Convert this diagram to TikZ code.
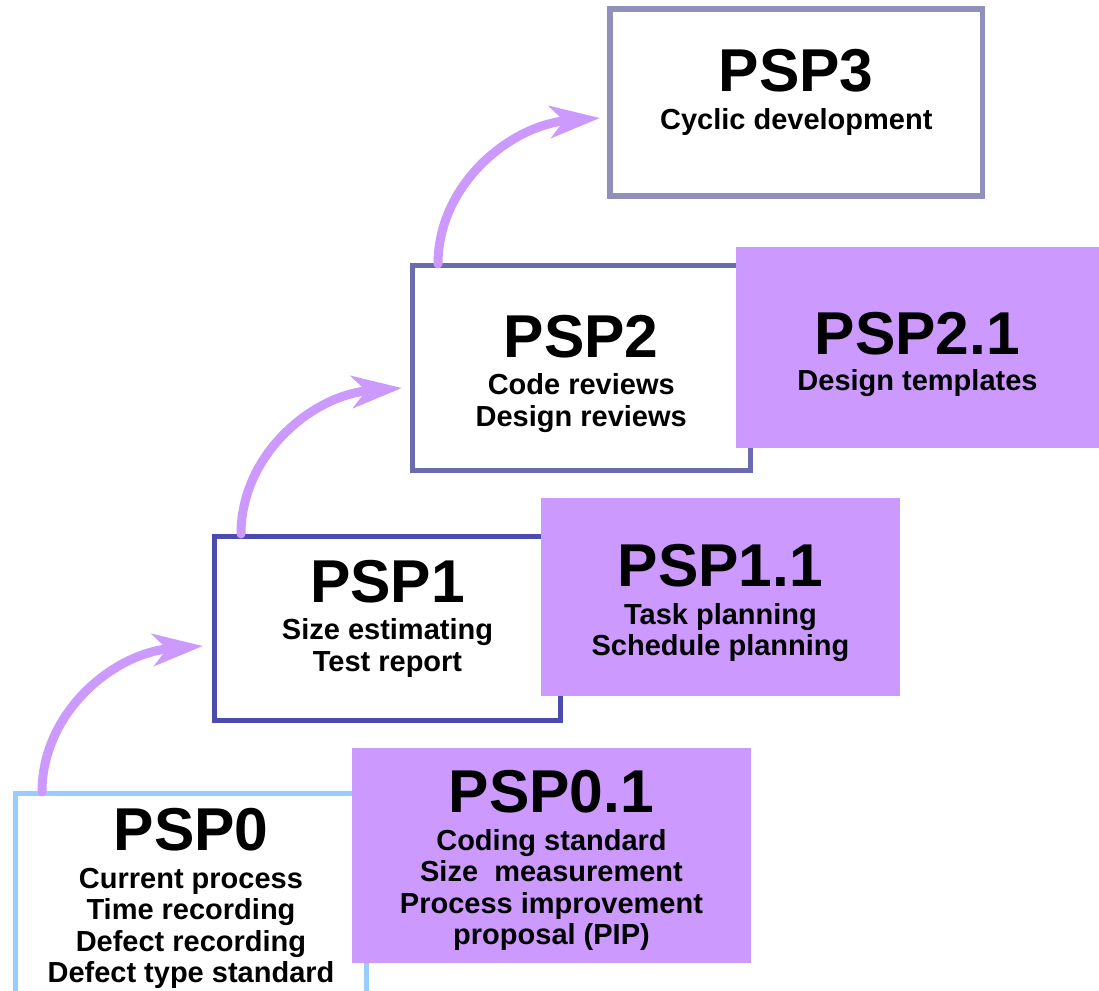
\documentclass[tikz,border=0pt]{standalone}
\usepackage{fontspec}
\setmainfont{Liberation Sans}
\usetikzlibrary{arrows.meta}
\definecolor{purp}{HTML}{CC99FF}
\definecolor{cA}{HTML}{99CCFF}
\definecolor{cB}{HTML}{4B4BB0}
\definecolor{cC}{HTML}{6B6BB0}
\definecolor{cD}{HTML}{9090BB}
\tikzset{
  box/.style={draw, fill=white, line width=5pt, inner sep=0pt, rectangle},
  pbox/.style={fill=purp, draw=none, inner sep=0pt, rectangle},
  ttl/.style={anchor=base, inner sep=0pt, font=\fontsize{60.5}{72}\selectfont\bfseries},
  sub/.style={anchor=base, inner sep=0pt, font=\fontsize{29}{32}\selectfont\bfseries},
  arr/.style={draw=purp, line width=9pt, line cap=round, -{Stealth[length=50pt,width=32pt,inset=14pt]}}
}
\begin{document}
\begin{tikzpicture}[x=1pt,y=-1pt]
\useasboundingbox (0,0) rectangle (1099,990);
\clip (0,0) rectangle (1099,990);
\fill[white] (0,0) rectangle (1099,990);
% boxes
\node[box, draw=cA, minimum width=351pt, minimum height=217pt] (b0) at (191,901.5) {};
\node[pbox, minimum width=399pt, minimum height=215pt] (b01) at (551.5,855.5) {};
\node[box, draw=cB, minimum width=346pt, minimum height=183.5pt] (b1) at (387.5,628.25) {};
\node[pbox, minimum width=359pt, minimum height=198pt] (b11) at (720.5,597) {};
\node[box, draw=cC, minimum width=338.5pt, minimum height=205pt] (b2) at (581.25,368) {};
\node[pbox, minimum width=363pt, minimum height=201pt] (b21) at (917.5,347.5) {};
\node[box, draw=cD, line width=5.5pt, minimum width=372.5pt, minimum height=187pt] (b3) at (796.25,102.5) {};
% texts PSP0
\node[ttl] (t0) at (191,850) {PSP0};
\node[sub] (t0a) at (191,888) {Current process};
\node[sub] (t0b) at (191,919.5) {Time recording};
\node[sub] (t0c) at (191,951) {Defect recording};
\node[sub] (t0d) at (191,982.5) {Defect type standard};
% PSP0.1
\node[ttl] (t01) at (551.5,812.7) {PSP0.1};
\node[sub] (t01a) at (551.5,850) {Coding standard};
\node[sub] (t01b) at (551.5,881.5) {Size\ \ measurement};
\node[sub] (t01c) at (551.5,913) {Process improvement};
\node[sub] (t01d) at (551.5,944.5) {proposal (PIP)};
% PSP1
\node[ttl] (t1) at (387.5,602.7) {PSP1};
\node[sub] (t1a) at (387.5,639.3) {Size estimating};
\node[sub] (t1b) at (387.5,671.5) {Test report};
% PSP1.1
\node[ttl] (t11) at (720.5,586) {PSP1.1};
\node[sub] (t11a) at (720.5,624) {Task planning};
\node[sub] (t11b) at (720.5,655.5) {Schedule planning};
% PSP2
\node[ttl] (t2) at (581.25,357.7) {PSP2};
\node[sub] (t2a) at (581.25,394) {Code reviews};
\node[sub] (t2b) at (581.25,426) {Design reviews};
% PSP2.1
\node[ttl] (t21) at (917.5,354) {PSP2.1};
\node[sub] (t21a) at (917.5,390) {Design templates};
% PSP3
\node[ttl] (t3) at (796.25,91.7) {PSP3};
\node[sub] (t3a) at (796.25,129.3) {Cyclic development};
% arrows
\coordinate (s1) at (42,792);
\coordinate (e1) at (203,646);
\coordinate (s2) at (241,534);
\coordinate (e2) at (402,388);
\coordinate (s3) at (438,264);
\coordinate (e3) at (600,118);
\draw[arr] (s1) .. controls +(0,-80) and +(-89,7) .. (e1);
\draw[arr] (s2) .. controls +(0,-80) and +(-89,7) .. (e2);
\draw[arr] (s3) .. controls +(0,-80) and +(-89,7) .. (e3);
\end{tikzpicture}
\end{document}
